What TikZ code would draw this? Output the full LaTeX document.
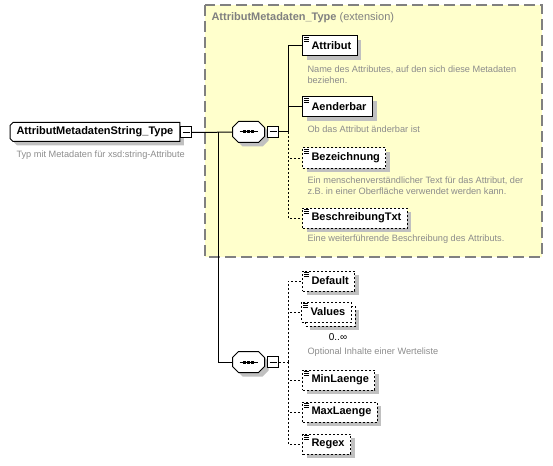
\documentclass[tikz,border=0pt]{standalone}
\usepackage{fontspec}
\setmainfont{Liberation Sans}
\usetikzlibrary{shadows,positioning}
\definecolor{extyellow}{RGB}{255,255,204}
\definecolor{extgray}{RGB}{128,128,128}
\definecolor{shadegray}{RGB}{192,192,192}
\definecolor{docgray}{RGB}{140,140,140}

\begin{document}
\begin{tikzpicture}[x=1pt,y=-1pt,line width=1pt,
  shade/.style={drop shadow={shadow xshift=4pt,shadow yshift=-4pt,fill=shadegray,opacity=1}},
  box/.style={draw,fill=white,anchor=west,minimum height=20pt,inner xsep=6pt,inner ysep=0pt,
    font=\bfseries\fontsize{11}{13}\selectfont,execute at begin node={\hspace*{3pt}}},
  elem/.style={box,shade},
  opt/.style={elem,dash pattern=on 2pt off 2pt},
  optline/.style={dash pattern=on 2pt off 2pt},
  doc/.style={anchor=west,align=left,text=docgray,font=\fontsize{9.2}{11}\selectfont,inner sep=0pt},
  rootname/.style={anchor=west,minimum height=18pt,inner xsep=6pt,inner ysep=0pt,
    font=\bfseries\fontsize{11}{13}\selectfont},
  seq/.style={minimum width=31pt,minimum height=20pt,inner sep=0pt},
  minus/.style={draw,fill=white,minimum size=11pt,inner sep=0pt}]
\useasboundingbox (0,0) rectangle (553,465);

% extension area
\draw[fill=extyellow,draw=extgray,line width=1.2pt,dash pattern=on 11pt off 5pt] (205,5) rectangle (542,257);
\node[anchor=west,inner sep=0pt,text=extgray,font=\fontsize{11}{13}\selectfont] (extname) at (211,18)
  {\textbf{AttributMetadaten\_Type} (extension)};

% root type
\node[rootname] (root) at (10,132) {\phantom{AttributMetadatenString\_Type}};
\filldraw[fill=white,shade] ([xshift=3pt]root.north west) -- (root.north east) -- (root.south east)
  -- ([xshift=3pt]root.south west) -- ([yshift=3pt]root.south west) -- ([yshift=-3pt]root.north west) -- cycle;
\node[rootname] (roottext) at (root.west) {AttributMetadatenString\_Type};
\node[minus] (rminus) at (186,132.5) {};
\node[doc] (rootdoc) at (16,155) {Typ mit Metadaten für xsd:string-Attribute};

% sequences
\node[seq] (seq1) at (248.5,132) {};
\node[seq] (seq2) at (248.5,362) {};
\foreach \n in {seq1,seq2}
  \filldraw[fill=white,shade] ([xshift=6pt]\n.north west) -- ([xshift=-6pt]\n.north east)
    -- ([yshift=-6pt]\n.north east) -- ([yshift=6pt]\n.south east) -- ([xshift=-6pt]\n.south east)
    -- ([xshift=6pt]\n.south west) -- ([yshift=6pt]\n.south west) -- ([yshift=-6pt]\n.north west) -- cycle;
\node[minus] (s1minus) at (273,132) {};
\node[minus] (s2minus) at (273,362) {};
\coordinate (j1) at (218,132);
\coordinate (b1) at (288,132);
\coordinate (b2) at (288,362);

% elements of the extension
\node[elem] (attr) at (302,46) {Attribut};
\node[doc] (attrdoc) at (307,74.5) {Name des Attributes, auf den sich diese Metadaten\\beziehen.};
\node[elem] (aend) at (302,107) {Aenderbar};
\node[doc] (aenddoc) at (307,129) {Ob das Attribut änderbar ist};
\node[opt] (bez) at (302,158) {Bezeichnung};
\node[doc] (bezdoc) at (307,185.5) {Ein menschenverständlicher Text für das Attribut, der\\z.B. in einer Oberfläche verwendet werden kann.};
\node[opt] (besch) at (302,218) {BeschreibungTxt};
\node[doc] (beschdoc) at (307,239) {Eine weiterführende Beschreibung des Attributs.};

% elements of the string type
\node[opt] (default) at (302,281) {Default};
\node[opt] (valuesbk) at (305,316) {\phantom{Values}};
\node[box,dash pattern=on 2pt off 2pt] (values) at (301,312) {Values};
\node[inner sep=0pt,font=\fontsize{10}{12}\selectfont] (occur) at (338,337) {0..∞};
\node[doc] (valuesdoc) at (307,352) {Optional Inhalte einer Werteliste};
\node[opt] (minl) at (302,380) {MinLaenge};
\node[opt] (maxl) at (302,412) {MaxLaenge};
\node[opt] (regex) at (302,444) {Regex};

% connectors
\draw (rminus) -- (seq1);
\draw (j1) |- (seq2);
\draw (s1minus) -- (b1);
\draw (b1) |- (attr.west);
\draw (b1) |- (aend.west);
\draw[optline] (b1) |- (bez.west);
\draw[optline] (b1) |- (besch.west);
\draw[optline] (s2minus) -- (b2);
\foreach \n in {default,values,minl,maxl,regex}
  \draw[optline] (b2) |- (\n.west);

% minus signs and sequence marks
\foreach \n in {rminus,s1minus,s2minus}
  \draw ([xshift=2.5pt]\n.west) -- ([xshift=-2.5pt]\n.east);
\foreach \n in {seq1,seq2} {
  \draw ([xshift=7pt]\n.west) -- ([xshift=-7pt]\n.east);
  \foreach \dx in {-4,0,4}
    \fill ([xshift=\dx pt]\n.center) +(-1.5,-1.5) rectangle +(1.5,1.5);
}

% text icons
\foreach \n in {attr,aend,bez,besch,default,values,minl,maxl,regex}
  \foreach \dy in {2,4,6}
    \draw[line width=0.7pt] ([xshift=2pt]\n.north west) ++(0,\dy) -- ++(5,0);
\end{tikzpicture}
\end{document}
